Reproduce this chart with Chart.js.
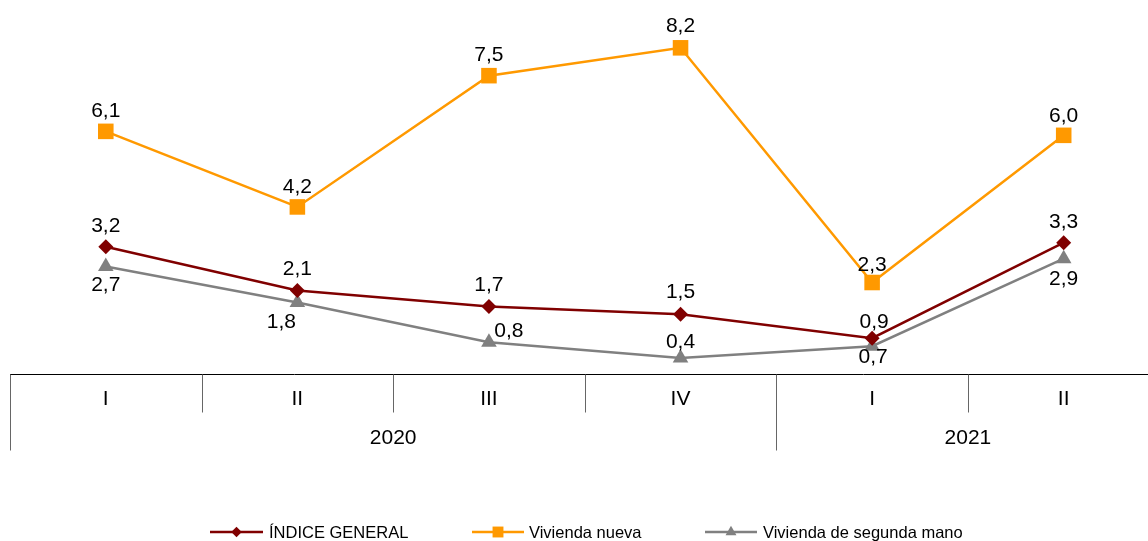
<!DOCTYPE html>
<html>
<head>
<meta charset="utf-8">
<script src="https://cdn.jsdelivr.net/npm/chart.js@4/dist/chart.umd.min.js"></script>
<style>
  html, body { margin: 0; padding: 0; background: #fff; overflow: hidden; }
  #wrap { width: 1148px; height: 541px; }
</style>
</head>
<body>
<div id="wrap"><canvas id="ipvChart" width="1148" height="541"></canvas></div>
<script>
/*********************************************/
/*           Índice de precios vivienda      */
/*********************************************/

// quarters on the x axis and the years they are grouped into
const quarters = ["I", "II", "III", "IV", "I", "II"];
const years = ["2020", "2021"];
const quartersPerYear = [4, 2];

// series values (annual rate, %)
const indiceGeneral = [3.2, 2.1, 1.7, 1.5, 0.9, 3.3];
const viviendaNueva = [6.1, 4.2, 7.5, 8.2, 2.3, 6.0];
const viviendaSegunda = [2.7, 1.8, 0.8, 0.4, 0.7, 2.9];

const FONT = "'Liberation Sans', Arial, sans-serif";

// where each value label sits relative to its point [dx, dy]
const labelOffsets = [
  [[0, -21], [0, -21], [0, -21], [0, -22], [2, -16], [0, -21]],
  [[0, -20], [0, -20], [0, -20], [0, -22], [0, -17], [0, -19]],
  [[0, 19], [-16, 20], [20, -11], [0, -16], [1, 11], [0, 21]]
];

// legend item positions: [line start, line end, text start]
const legendPos = [[210, 263, 269], [472, 524, 529], [705, 757, 763]];

// the last quarter's column runs a little past the right edge of the picture
const xMax = 5.44;

// pair each value with its quarter index for the linear x scale
function toPoints(values) {
  return values.map(function (v, i) {
    return { x: i, y: v };
  });
}

// draws value labels, the two level category axis and the legend
const decorPlugin = {
  id: "decor",
  afterDatasetsDraw(chart) {
    const c = chart.ctx;
    const area = chart.chartArea;
    const x = chart.scales.x;

    c.save();
    c.fillStyle = "#000";
    c.textAlign = "center";
    c.textBaseline = "middle";

    // value labels with comma decimals
    c.font = "21px " + FONT;
    chart.data.datasets.forEach(function (ds, d) {
      const meta = chart.getDatasetMeta(d);
      meta.data.forEach(function (pt, i) {
        const off = labelOffsets[d][i];
        c.fillText(ds.data[i].y.toFixed(1).replace(".", ","), pt.x + off[0], pt.y + off[1]);
      });
    });

    // axis line
    const y0 = Math.round(area.bottom) + 0.5;
    c.strokeStyle = "#000";
    c.lineWidth = 1;
    c.beginPath();
    c.moveTo(x.getPixelForValue(-0.5), y0);
    c.lineTo(chart.width, y0);
    c.stroke();

    // separators between quarters; longer ones between years
    const yearStarts = [0];
    quartersPerYear.forEach(function (n, k) {
      yearStarts.push(yearStarts[k] + n);
    });
    c.strokeStyle = "#666";
    for (let k = 0; k < quarters.length; k++) {
      const sx = Math.round(x.getPixelForValue(k - 0.5)) + 0.5;
      const long = yearStarts.indexOf(k) !== -1;
      c.beginPath();
      c.moveTo(sx, y0);
      c.lineTo(sx, long ? y0 + 76 : y0 + 38);
      c.stroke();
    }

    // quarter labels
    c.font = "21px " + FONT;
    quarters.forEach(function (q, i) {
      c.fillText(q, x.getPixelForValue(i), y0 + 25);
    });

    // year labels centred under their quarters
    years.forEach(function (yr, k) {
      const a = x.getPixelForValue(yearStarts[k] - 0.5);
      const b = x.getPixelForValue(yearStarts[k + 1] - 0.5);
      c.fillText(yr, (a + b) / 2, y0 + 64);
    });

    // legend: short line with the marker in the middle
    const ly = 532;
    c.font = "16.5px " + FONT;
    c.textAlign = "left";
    chart.data.datasets.forEach(function (ds, d) {
      const p = legendPos[d];
      c.strokeStyle = ds.borderColor;
      c.lineWidth = 2.5;
      c.beginPath();
      c.moveTo(p[0], ly);
      c.lineTo(p[1], ly);
      c.stroke();
      c.fillStyle = ds.pointBackgroundColor;
      Chart.helpers.drawPoint(c, {
        pointStyle: ds.pointStyle,
        radius: ds.pointRadius * 0.7,
        borderWidth: 0,
        rotation: 0
      }, (p[0] + p[1]) / 2, ly);
      c.fillStyle = "#000";
      c.fillText(ds.label, p[2], ly + 1);
    });

    c.restore();
  }
};

// variable for dom context where chart is placed
let ctx = document.getElementById("ipvChart");

const data = {
  labels: quarters,
  datasets: [
    {
      label: "ÍNDICE GENERAL",
      data: toPoints(indiceGeneral),
      borderColor: "#800000",
      backgroundColor: "#800000",
      pointBackgroundColor: "#800000",
      pointBorderWidth: 0,
      pointStyle: "rectRot",
      pointRadius: 7.5,
      borderWidth: 2.5
    },
    {
      label: "Vivienda nueva",
      data: toPoints(viviendaNueva),
      borderColor: "#FF9900",
      backgroundColor: "#FF9900",
      pointBackgroundColor: "#FF9900",
      pointBorderWidth: 0,
      pointStyle: "rect",
      pointRadius: 11,
      borderWidth: 2.5
    },
    {
      label: "Vivienda de segunda mano",
      data: toPoints(viviendaSegunda),
      borderColor: "#808080",
      backgroundColor: "#808080",
      pointBackgroundColor: "#808080",
      pointBorderWidth: 0,
      pointStyle: "triangle",
      pointRadius: 9,
      borderWidth: 2.5
    }
  ]
}; // end data

const config = {
  type: "line",
  data: data,
  options: {
    responsive: false,
    animation: false,
    layout: { autoPadding: false, padding: { left: 10, right: 0, top: 16, bottom: 167 } },
    plugins: {
      legend: { display: false },
      tooltip: { enabled: false }
    },
    scales: {
      x: { type: "linear", display: false, min: -0.5, max: xMax },
      y: { display: false, min: 0, max: 9 }
    }
  },
  plugins: [decorPlugin]
};

const ipvChart = new Chart(ctx, config);
</script>
</body>
</html>
